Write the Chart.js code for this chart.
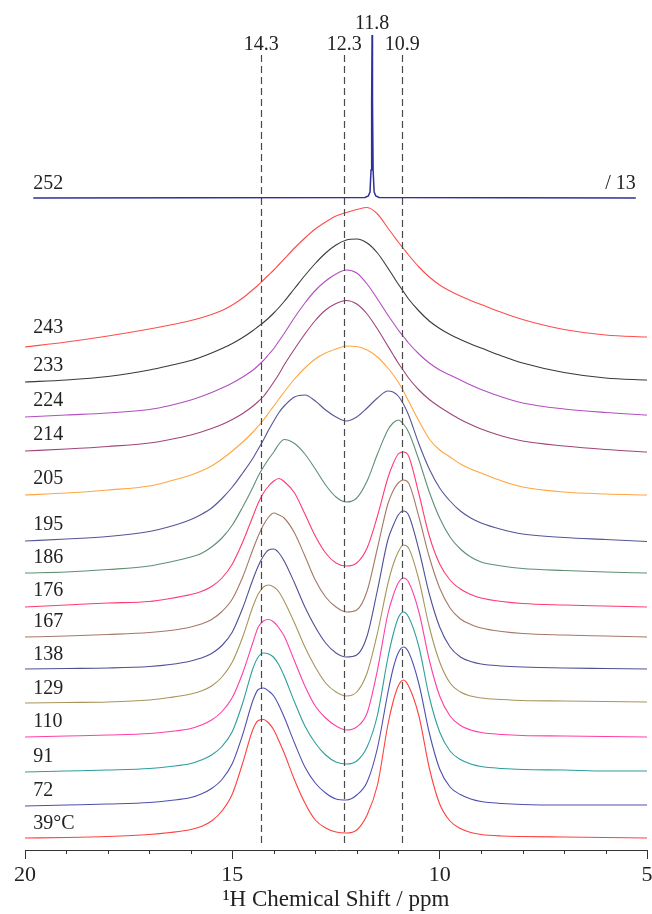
<!DOCTYPE html>
<html>
<head>
<meta charset="utf-8">
<title>1H NMR spectra vs temperature</title>
<script src="https://cdn.jsdelivr.net/npm/chart.js@4.4.1/dist/chart.umd.min.js"></script>
<style>
  html, body { margin: 0; padding: 0; background: #fff; }
  #wrap { width: 652px; height: 914px; }
</style>
</head>
<body>
<div id="wrap"><canvas id="nmr" width="652" height="914"></canvas></div>
<script>
(function() {
    'use strict';

    // Chemical shift grid (ppm) shared by the stacked spectra, finer around the two peaks
    const shift = [20, 19, 18, 17, 16.5, 16, 15.75, 15.5, 15.25, 15, 14.75, 14.5, 14.375, 14.25,
        14.125, 14, 13.875, 13.75, 13.5, 13.25, 13, 12.75, 12.5, 12.25, 12, 11.75, 11.5, 11.25,
        11.125, 11, 10.875, 10.75, 10.5, 10.25, 10, 9.75, 9.5, 9.25, 9, 8.5, 8, 7, 6, 5];

    // Stacked intensity (a.u., offset included), one array per temperature
    const s243 = [503, 508, 514, 521, 525, 529.5, 532.25, 535.5, 539.5, 545, 552, 560.5, 565, 570, 575, 580, 585.5, 591, 602, 612, 621, 628, 634, 637.5, 640.5, 642.5, 636, 622, 615, 608, 601.5, 595, 583, 573, 565, 559, 554, 549.5, 545.5, 537.5, 530.5, 520.5, 515, 513];
    const s233 = [468, 470, 473.5, 480, 484.5, 489.5, 493, 497, 501.5, 506.5, 512.5, 519.5, 523.5, 527.5, 532, 537, 542.5, 548.5, 561.5, 574.5, 586.5, 597, 605, 610, 611, 607, 597, 582, 574, 566, 558.5, 551, 539, 529, 521.5, 515.5, 510.5, 506, 502, 494, 487, 477.5, 472, 470];
    const s224 = [433, 435, 437, 440.5, 444.5, 450, 453.5, 457.5, 462, 467, 473, 480, 484.5, 489.5, 495.5, 501.5, 509, 516.5, 532.5, 547, 559.5, 569, 576, 580, 577, 566, 551, 535, 527.5, 520, 513.5, 507, 496, 487, 480, 475, 470, 465, 460.5, 453, 447, 441, 437.5, 435];
    const s214 = [399, 401, 403.5, 407, 410.5, 415, 418, 421.5, 425.5, 430.5, 436.5, 444, 448.5, 453.5, 460.5, 468, 476, 485, 501, 516, 529.5, 540, 546.5, 549.5, 546, 536, 521, 504, 495.5, 487, 479.5, 472, 460, 450.5, 443, 436.5, 430.5, 425.5, 421, 414, 409, 404, 400.5, 398];
    const s205 = [355, 357, 360, 364, 369, 375, 379, 384, 391, 399, 408, 418, 424, 430, 437, 444, 451, 458, 471, 482, 491, 497, 501, 504, 503.5, 500, 493, 482, 475.5, 468, 459, 449, 429, 411, 400, 393, 386, 381, 377, 369, 363, 358, 356, 355];
    const s195 = [309, 311, 313.5, 318.5, 323.5, 330.5, 335.5, 342, 351.5, 363, 377, 392, 401, 410, 420, 429, 437.5, 444, 453, 455, 449, 440, 433, 429, 433, 442, 452, 459, 458, 454, 446, 435, 406, 381, 362, 349, 339, 332, 327, 320.5, 316, 312.5, 310.5, 308.5];
    const s186 = [277, 278, 280.5, 284, 288, 293, 296.5, 303, 312, 325, 343, 363, 374, 383, 391, 398, 406, 410.5, 406.5, 396, 381, 365, 353, 348, 352, 369, 396, 420, 427, 430, 426, 418, 390, 358, 332, 313, 301, 293, 288, 284, 281.5, 279.5, 278, 277];
    const s176 = [243, 245, 247, 248.5, 251.5, 255.5, 258.5, 263.5, 272, 286, 308, 334, 347, 357, 364, 369, 371.5, 368.5, 357, 336, 314, 297, 287, 284, 287, 302, 334, 372, 386, 396, 398, 394, 356, 314, 286, 270, 261, 255.5, 252, 248.5, 246.5, 245, 244, 243];
    const s167 = [213, 214, 215.5, 217.5, 219.5, 223, 226, 230.5, 238.5, 251, 273, 301, 314, 325, 333, 337, 335, 332, 317, 294, 270, 253, 243, 238, 240, 259, 302, 346, 359, 367, 370, 367, 333, 293, 262, 242, 231, 225.5, 222, 218.5, 216.5, 215, 214, 213];
    const s138 = [181, 181.5, 182, 183.5, 185.5, 189, 192, 196.5, 204.5, 218, 242, 271, 284, 294, 300, 301, 297, 289, 267, 243, 223, 207, 197, 193, 195, 214, 260, 310, 324, 335, 339, 335, 300, 256, 223, 203, 193, 188.5, 186, 184, 183, 182, 181.5, 181];
    const s129 = [147, 147.5, 148, 150, 152.5, 156, 159, 164, 173, 188, 213, 244, 256, 263, 265, 263, 258, 249, 227, 203, 183, 167, 158, 154, 158, 177, 217, 266, 285, 298, 305, 302, 270, 223, 188, 167, 158, 154, 152, 150.5, 149.5, 149, 148.5, 148];
    const s110 = [113, 114, 115, 116.5, 118.5, 121.5, 125, 130, 138.5, 152.5, 177, 208, 223, 229, 230.5, 228, 222, 214, 189, 164, 144, 132, 124, 120, 123, 137, 180, 236, 254, 267, 272, 268, 238, 190, 154, 134, 124.5, 120, 117.5, 115.5, 114.5, 114, 113.5, 113];
    const s91  = [78, 79, 80, 81.5, 83.5, 86.5, 90, 95, 103.5, 118.5, 147, 182, 193, 197, 196, 192.5, 185, 174, 148, 124, 107, 95, 88, 86, 89, 103, 135, 192, 215, 232, 238, 233, 203, 153, 118, 99, 90.5, 86, 83.5, 81.5, 80.5, 80, 79, 79];
    const s72  = [44, 45, 46, 47.5, 49.5, 52.5, 56, 61.5, 70.5, 86.5, 115.5, 150, 160.5, 162, 159, 154, 144.5, 133, 107, 83, 67, 57, 51, 50, 55, 68, 102, 157, 181, 197, 203, 198, 166, 117, 81, 63, 55.5, 51, 48.5, 46.5, 45.5, 45, 45, 45];
    const s39  = [12, 12.5, 13.5, 15.5, 17.5, 20.5, 23.5, 29, 39, 56, 87, 121, 129.5, 130.5, 127, 120, 109, 97, 70, 47, 30, 22, 18, 17, 20, 35, 65, 125, 148, 164, 170, 164, 134, 82, 46, 29, 21.5, 17.5, 15.5, 14, 13.5, 13, 12.5, 12];

    // 252 spectrum (scaled / 13): its own grid, narrow line
    const shift252 = [19.8, 11.8, 11.72, 11.68, 11.655, 11.64, 11.63, 11.62, 11.605, 11.58, 11.54, 11.46, 5.27];
    const s252 = [652, 652.5, 654, 658, 680, 750, 815, 750, 680, 658, 654, 652.5, 652];

    const temps = ['243', '233', '224', '214', '205', '195', '186', '176', '167', '138', '129', '110', '91', '72', '39\u00b0C'];
    const refShifts = [14.3, 12.3, 10.9];
    const peakLabel = '11.8';
    const scaleLabel = '/ 13';
    const xTicks = [20, 15, 10, 5];

    const spectra = [s243, s233, s224, s214, s205, s195, s186, s176, s167, s138, s129, s110, s91, s72, s39];
    const colors = ['#ff4d4d', '#3a3a3a', '#b24fc0', '#a0457a', '#ffa642', '#555597', '#5f8f75',
        '#ff3b73', '#a57868', '#505095', '#a8955c', '#ff3fa6', '#2f9e9e', '#4f4fb0', '#ff4040'];

    const serif = '"Liberation Serif", "Times New Roman", serif';

    const datasets = spectra.map(function(vals, i) {
        return {
            label: temps[i],
            data: shift.map(function(s, j) { return { x: s, y: vals[j] }; }),
            borderColor: colors[i],
            borderWidth: 1.1,
            cubicInterpolationMode: 'monotone'
        };
    });
    datasets.unshift({
        label: '252',
        data: shift252.map(function(s, j) { return { x: s, y: s252[j] }; }),
        borderColor: '#30309a',
        borderWidth: 1.5,
        tension: 0
    });

    // Dashed reference lines, peak labels and temperature labels
    const markers = {
        id: 'markers',
        afterDatasetsDraw: function(chart) {
            const ctx = chart.ctx;
            const area = chart.chartArea;
            const x = chart.scales.x;
            const y = chart.scales.y;
            ctx.save();

            ctx.strokeStyle = '#4a4a4a';
            ctx.lineWidth = 1.2;
            ctx.setLineDash([7, 4]);
            refShifts.forEach(function(v) {
                const px = Math.round(x.getPixelForValue(v)) + 0.5;
                ctx.beginPath();
                ctx.moveTo(px, area.top + 55);
                ctx.lineTo(px, area.bottom - 6);
                ctx.stroke();
            });
            ctx.setLineDash([]);

            ctx.fillStyle = '#222';
            ctx.font = '20px ' + serif;
            ctx.textBaseline = 'alphabetic';
            ctx.textAlign = 'center';
            refShifts.forEach(function(v) {
                ctx.fillText(v.toFixed(1), x.getPixelForValue(v), area.top + 50);
            });

            // label above the sharp 252 line
            let top = 0;
            s252.forEach(function(v, j) { if (v > s252[top]) top = j; });
            ctx.fillText(peakLabel, x.getPixelForValue(shift252[top]), y.getPixelForValue(s252[top]) - 6);

            // temperature labels at the left end of each trace
            ctx.textAlign = 'left';
            ctx.fillText('252', x.getPixelForValue(shift252[0]), y.getPixelForValue(s252[0]) - 9);
            spectra.forEach(function(vals, i) {
                ctx.fillText(temps[i], x.getPixelForValue(19.8), y.getPixelForValue(vals[1]) - 9);
            });
            ctx.textAlign = 'right';
            const last = shift252.length - 1;
            ctx.fillText(scaleLabel, x.getPixelForValue(shift252[last]), y.getPixelForValue(s252[last]) - 9);

            ctx.restore();
        },
        afterDraw: function(chart) {
            // minor ticks every 1 ppm
            const ctx = chart.ctx;
            const x = chart.scales.x;
            const bottom = chart.chartArea.bottom;
            ctx.save();
            ctx.strokeStyle = '#333';
            ctx.lineWidth = 1;
            for (let v = 6; v < 20; v++) {
                if (v % 5 === 0) continue;
                const px = Math.round(x.getPixelForValue(v)) + 0.5;
                ctx.beginPath();
                ctx.moveTo(px, bottom);
                ctx.lineTo(px, bottom + 4);
                ctx.stroke();
            }
            ctx.restore();
        }
    };

    new Chart(document.getElementById('nmr'), {
        type: 'line',
        data: { datasets: datasets },
        plugins: [markers],
        options: {
            responsive: false,
            animation: false,
            events: [],
            layout: { padding: { left: 25, right: 5, top: 0, bottom: 0 } },
            elements: { point: { radius: 0 } },
            plugins: {
                legend: { display: false },
                tooltip: { enabled: false }
            },
            scales: {
                x: {
                    type: 'linear',
                    reverse: true,
                    min: 5,
                    max: 20,
                    afterFit: function(scale) {
                        scale.height = 64;
                        scale.paddingLeft = 0;
                        scale.paddingRight = 0;
                    },
                    border: { display: true, color: '#333', width: 1 },
                    grid: {
                        drawOnChartArea: false,
                        drawTicks: true,
                        tickLength: 9,
                        tickColor: function(c) {
                            return c.tick && xTicks.indexOf(c.tick.value) >= 0 ? '#333' : 'rgba(0,0,0,0)';
                        }
                    },
                    ticks: {
                        stepSize: 1,
                        autoSkip: false,
                        maxRotation: 0,
                        padding: 3,
                        color: '#222',
                        font: { family: serif, size: 22 },
                        callback: function(v) { return xTicks.indexOf(v) >= 0 ? String(v) : ''; }
                    },
                    title: {
                        display: true,
                        text: '\u00b9H Chemical Shift / ppm',
                        color: '#222',
                        font: { family: serif, size: 23 },
                        padding: { top: 0, bottom: 0 }
                    }
                },
                y: { display: false, min: 0, max: 850 }
            }
        }
    });
})();
</script>
</body>
</html>
